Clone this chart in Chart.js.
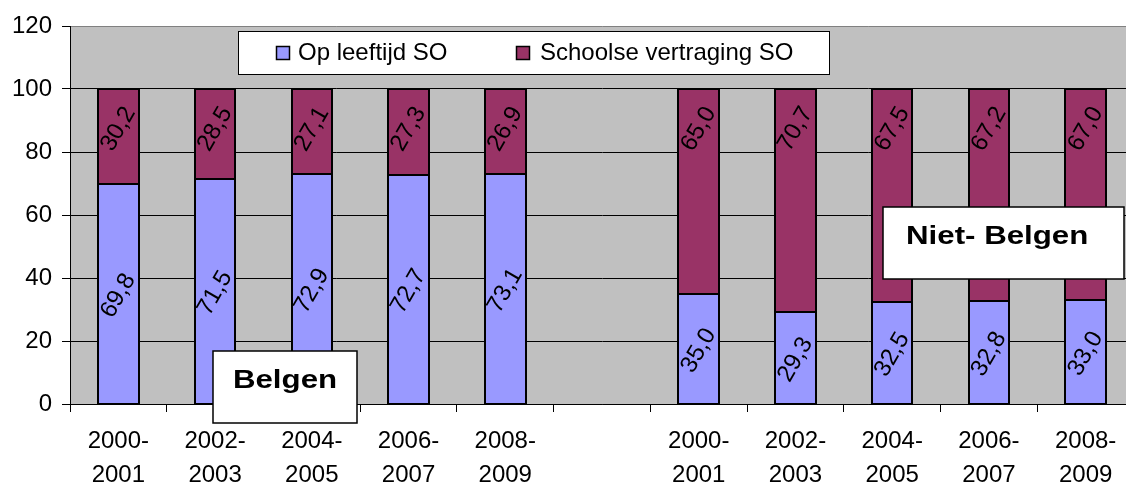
<!DOCTYPE html>
<html><head><meta charset="utf-8">
<script src="https://cdn.jsdelivr.net/npm/chart.js@4.4.1/dist/chart.umd.min.js"></script>
<style>
html,body{margin:0;padding:0;background:#fff;overflow:hidden;width:1126px;height:486px}
#wrap{position:absolute;left:0;top:0;width:1134px;height:486px}
</style>
</head><body><div id="wrap"><canvas id="c"></canvas></div>
<script>
const categories = [
  ['2000-','2001'],['2002-','2003'],['2004-','2005'],['2006-','2007'],['2008-','2009'],
  '',
  ['2000-','2001'],['2002-','2003'],['2004-','2005'],['2006-','2007'],['2008-','2009']
];
const opLeeftijd = [69.8, 71.5, 72.9, 72.7, 73.1, null, 35.0, 29.3, 32.5, 32.8, 33.0];
const vertraging = [30.2, 28.5, 27.1, 27.3, 26.9, null, 65.0, 70.7, 67.5, 67.2, 67.0];
const seriesNames = ['Op leeftijd SO', 'Schoolse vertraging SO'];
const groupNames = ['Belgen', 'Niet- Belgen'];
const yTicks = [0, 20, 40, 60, 80, 100, 120];

const FONT = '"Liberation Sans", Arial, sans-serif';
const BLUE = '#9999FF', MAROON = '#993366';

const fmt = v => v.toFixed(1).replace('.', ',');

const bgPlugin = {
  id: 'bg',
  beforeDraw(chart) {
    const {ctx, chartArea: a} = chart;
    ctx.save();
    ctx.fillStyle = '#C0C0C0';
    ctx.fillRect(a.left, a.top, a.right - a.left, a.bottom - a.top);
    ctx.restore();
  }
};

const valueLabels = {
  id: 'valueLabels',
  afterDatasetsDraw(chart) {
    const ctx = chart.ctx;
    ctx.save();
    // crisp black outlines around each bar segment
    ctx.strokeStyle = '#000';
    ctx.lineWidth = 2;
    chart.data.datasets.forEach((ds, di) => {
      chart.getDatasetMeta(di).data.forEach((bar, i) => {
        if (ds.data[i] == null) return;
        const {x, y, base, width} = bar.getProps(['x', 'y', 'base', 'width'], true);
        const l = Math.round(x - width / 2), r = Math.round(x + width / 2);
        const t = Math.round(Math.min(y, base)), b = Math.round(Math.max(y, base));
        ctx.strokeRect(l, t, r - l, b - t);
      });
    });
    ctx.font = '24px ' + FONT;
    ctx.fillStyle = '#000';
    ctx.textAlign = 'center';
    ctx.textBaseline = 'middle';
    chart.data.datasets.forEach((ds, di) => {
      const meta = chart.getDatasetMeta(di);
      meta.data.forEach((bar, i) => {
        const v = ds.data[i];
        if (v == null) return;
        const y = di === 0 ? (bar.y + bar.base) / 2 + 2 : bar.y + 40;
        ctx.save();
        ctx.translate(bar.x, y);
        ctx.rotate(-60 * Math.PI / 180);
        ctx.fillText(fmt(v), 0, 0);
        ctx.restore();
      });
    });
    ctx.restore();
  }
};

function textBox(ctx, x0, y0, x1, y1, text, tx, ty, align) {
  ctx.fillStyle = '#fff';
  ctx.fillRect(x0, y0, x1 - x0, y1 - y0);
  ctx.strokeStyle = '#000';
  ctx.lineWidth = 1.5;
  ctx.strokeRect(x0, y0, x1 - x0, y1 - y0);
  ctx.save();
  ctx.font = 'bold 25px ' + FONT;
  ctx.fillStyle = '#000';
  ctx.textBaseline = 'middle';
  ctx.textAlign = align;
  ctx.translate(tx, ty);
  ctx.scale(1.25, 1);
  ctx.fillText(text, 0, 0);
  ctx.restore();
}

const overlay = {
  id: 'overlay',
  afterDraw(chart) {
    const ctx = chart.ctx;
    ctx.save();
    ctx.fillStyle = '#fff';
    ctx.fillRect(238, 31, 591, 43);
    ctx.strokeStyle = '#000';
    ctx.lineWidth = 1;
    ctx.strokeRect(238.5, 31.5, 591, 43);
    const items = [[276, 298, BLUE], [516, 540, MAROON]];
    ctx.font = '24px ' + FONT;
    ctx.textBaseline = 'middle';
    ctx.textAlign = 'left';
    items.forEach((it, k) => {
      ctx.fillStyle = it[2];
      ctx.fillRect(it[0], 46, 13, 13);
      ctx.strokeStyle = '#000';
      ctx.lineWidth = 1.5;
      ctx.strokeRect(it[0] + 0.5, 46.5, 13, 13);
      ctx.fillStyle = '#000';
      ctx.fillText(seriesNames[k], it[1], 53);
    });
    textBox(ctx, 213, 351, 357, 423, groupNames[0], 285, 381, 'center');
    textBox(ctx, 883, 207, 1124, 279, groupNames[1], 906, 237, 'left');
    ctx.restore();
  }
};

new Chart(document.getElementById('c'), {
  type: 'bar',
  data: {
    labels: categories,
    datasets: [
      {label: seriesNames[0], data: opLeeftijd, backgroundColor: BLUE, borderWidth: 0, stack: 's'},
      {label: seriesNames[1], data: vertraging, backgroundColor: MAROON, borderWidth: 0, stack: 's'}
    ]
  },
  options: {
    responsive: true,
    maintainAspectRatio: false,
    animation: false,
    devicePixelRatio: 1,
    layout: {padding: {top: 26, left: 0, right: 0, bottom: 0}},
    datasets: {bar: {barPercentage: 0.42, categoryPercentage: 1.0, inflateAmount: 0}},
    plugins: {legend: {display: false}, tooltip: {enabled: false}},
    scales: {
      x: {
        stacked: true,
        grid: {display: true, drawOnChartArea: false, drawTicks: true, tickLength: 8, color: '#000', offset: true},
        border: {display: true, color: '#000', width: 1},
        ticks: {color: '#000', font: {family: FONT, size: 24, lineHeight: 1.42}, padding: 12, maxRotation: 0, autoSkip: false},
        afterFit(s) { s.height = 82; }
      },
      y: {
        stacked: true,
        min: 0, max: 120,
        afterBuildTicks(s) { s.ticks = yTicks.map(v => ({value: v})); },
        grid: {color: ctx => (ctx.tick && ctx.tick.value === 120 ? '#808080' : '#000'), tickColor: '#000', lineWidth: 1, tickLength: 8},
        border: {display: true, color: '#000', width: 1},
        ticks: {color: '#000', font: {family: FONT, size: 24}, padding: 10},
        afterFit(s) { s.width = 70; }
      }
    }
  },
  plugins: [bgPlugin, valueLabels, overlay]
});
</script>
</body></html>
